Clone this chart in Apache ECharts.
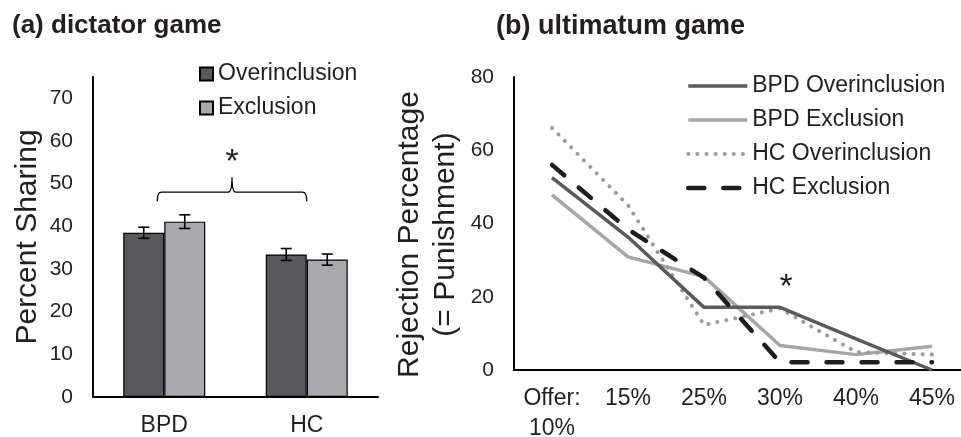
<!DOCTYPE html>
<html>
<head>
<meta charset="utf-8">
<script src="https://cdn.jsdelivr.net/npm/echarts@6/dist/echarts.min.js"></script>
<style>
  html, body { margin: 0; padding: 0; background: #fff; }
  #main { width: 961px; height: 437px; }
</style>
</head>
<body>
<div id="main"></div>
<script>
// (a) dictator game
var groups = ['BPD', 'HC'];
var overinclusion = [38.5, 33.4];
var exclusion = [41.1, 32.2];
var overinclusionErr = [1.3, 1.4];
var exclusionErr = [1.6, 1.3];
var sharingTicks = [0, 10, 20, 30, 40, 50, 60, 70];
var braceLevel = 48;   // height of the brace over both groups
var braceStar = '*';

// (b) ultimatum game
var offers = ['Offer:\n10%', '15%', '25%', '30%', '40%', '45%'];
var bpdOver = [52.5, 36.3, 17.1, 17.1, 8.5, 0];
var bpdExcl = [47.8, 30.9, 25.5, 6.7, 4.2, 6.5];
var hcOver = [66.1, 45, 12.3, 16.8, 4.9, 4.2];
var hcExcl = [56, 38.4, 25.2, 2.1, 2.1, 2.1];
var starOffer = 3;
var starLevel = 22.6;

var FONT = '"Liberation Sans", Arial, sans-serif';
var TXT = '#231f20';

var lineStyles = {
  'BPD Overinclusion': { color: '#5a5a5a', width: 3.5 },
  'BPD Exclusion': { color: '#a6a6a6', width: 3.5 },
  'HC Overinclusion': { color: '#9c9c9c', width: 4, type: [0.1, 9], cap: 'round' },
  'HC Exclusion': { color: '#1e1e1e', width: 4.5, type: [16, 19], cap: 'round' }
};

var chart = echarts.init(document.getElementById('main'));

function errorSeries(name, vals, errs, dx) {
  return {
    type: 'custom',
    name: name + ' err',
    xAxisIndex: 0, yAxisIndex: 0,
    z: 5,
    silent: true,
    data: vals.map(function (v, i) { return [i, v, errs[i]]; }),
    renderItem: function (params, api) {
      var hi = api.coord([api.value(0), api.value(1) + api.value(2)]);
      var lo = api.coord([api.value(0), api.value(1) - api.value(2)]);
      var x = hi[0] + dx;
      var w = 5.5;
      var st = { stroke: '#000', lineWidth: 1.6 };
      return {
        type: 'group',
        children: [
          { type: 'line', shape: { x1: x, y1: hi[1], x2: x, y2: lo[1] }, style: st },
          { type: 'line', shape: { x1: x - w, y1: hi[1], x2: x + w, y2: hi[1] }, style: st },
          { type: 'line', shape: { x1: x - w, y1: lo[1], x2: x + w, y2: lo[1] }, style: st }
        ]
      };
    }
  };
}

function lineSeries(name, data, z) {
  return {
    name: name, type: 'line', xAxisIndex: 1, yAxisIndex: 1,
    data: data, symbol: 'none', z: z,
    color: lineStyles[name].color,
    lineStyle: lineStyles[name]
  };
}

var option = {
  animation: false,
  textStyle: { fontFamily: FONT, color: TXT },
  title: [
    { text: '(a) dictator game', left: 12, top: 13, padding: 0,
      textStyle: { fontFamily: FONT, fontSize: 26, fontWeight: 'bold', color: TXT } },
    { text: '(b) ultimatum game', left: 496, top: 13, padding: 0,
      textStyle: { fontFamily: FONT, fontSize: 27, fontWeight: 'bold', color: TXT } }
  ],
  legend: [
    {
      data: ['Overinclusion', 'Exclusion'],
      orient: 'vertical',
      left: 199, top: 62, padding: 0,
      icon: 'rect',
      itemWidth: 13, itemHeight: 13, itemGap: 10,
      textStyle: { fontFamily: FONT, fontSize: 23, color: TXT, lineHeight: 24 }
    },
    {
      data: ['BPD Overinclusion', 'BPD Exclusion', 'HC Overinclusion', 'HC Exclusion'].map(function (n) {
        return { name: n, lineStyle: lineStyles[n], itemStyle: { opacity: 0 } };
      }),
      orient: 'vertical',
      left: 686, top: 74, padding: 0,
      itemWidth: 59, itemHeight: 24, itemGap: 10,
      itemStyle: { opacity: 0 },
      lineStyle: { width: 'inherit' },
      textStyle: { fontFamily: FONT, fontSize: 23, color: TXT, lineHeight: 24 }
    }
  ],
  grid: [
    { left: 93, top: 77, width: 285, height: 320, outerBoundsMode: 'none', containLabel: false },
    { left: 514, top: 77, width: 456, height: 293, outerBoundsMode: 'none', containLabel: false }
  ],
  xAxis: [
    {
      type: 'category', gridIndex: 0, data: groups,
      axisLine: { lineStyle: { color: '#000', width: 2 } },
      axisTick: { show: false },
      axisLabel: { fontFamily: FONT, fontSize: 23, color: TXT, margin: 14, lineHeight: 30 }
    },
    {
      type: 'category', gridIndex: 1, data: offers,
      axisLine: { lineStyle: { color: '#000', width: 2 } },
      axisTick: { show: false },
      axisLabel: { fontFamily: FONT, fontSize: 23, color: TXT, margin: 14, lineHeight: 30, interval: 0 }
    }
  ],
  yAxis: [
    {
      type: 'value', gridIndex: 0, min: 0, max: 75, interval: 10,
      name: 'Percent Sharing', nameLocation: 'middle', nameGap: 50, nameRotate: 90,
      nameTextStyle: { fontFamily: FONT, fontSize: 30, color: TXT },
      axisLine: { show: true, lineStyle: { color: '#000', width: 2 } },
      axisTick: { show: false },
      splitLine: { show: false },
      axisLabel: {
        fontFamily: FONT, fontSize: 21, color: TXT, margin: 20, showMaxLabel: false,
        formatter: function (v) { return sharingTicks.indexOf(v) >= 0 ? v : ''; }
      }
    },
    {
      type: 'value', gridIndex: 1, min: 0, max: 80, interval: 20,
      name: 'Rejection Percentage\n(= Punishment)', nameLocation: 'middle', nameGap: 50, nameRotate: 90,
      nameTextStyle: { fontFamily: FONT, fontSize: 30, color: TXT, lineHeight: 36, padding: [0, 22, 0, 0] },
      axisLine: { show: true, lineStyle: { color: '#000', width: 2 } },
      axisTick: { show: false },
      splitLine: { show: false },
      axisLabel: { fontFamily: FONT, fontSize: 21, color: TXT, margin: 20 }
    }
  ],
  series: [
    {
      name: 'Overinclusion', type: 'bar', xAxisIndex: 0, yAxisIndex: 0,
      data: overinclusion, barWidth: 41, barGap: 0,
      itemStyle: { color: '#58595b', borderColor: '#000', borderWidth: 1.2 }
    },
    {
      name: 'Exclusion', type: 'bar', xAxisIndex: 0, yAxisIndex: 0,
      data: exclusion, barWidth: 41, barGap: 0,
      itemStyle: { color: '#a7a9ac', borderColor: '#000', borderWidth: 1.2 }
    },
    errorSeries('Overinclusion', overinclusion, overinclusionErr, -20.5),
    errorSeries('Exclusion', exclusion, exclusionErr, 20.5),
    {
      // significance brace between the two groups
      type: 'custom', name: 'brace', xAxisIndex: 0, yAxisIndex: 0, silent: true,
      data: [[0, 1, braceLevel]],
      renderItem: function (params, api) {
        var a = api.coord([api.value(0), api.value(2)]);
        var b = api.coord([api.value(1), api.value(2)]);
        var x1 = a[0] - 7, x2 = b[0], y = a[1];
        var xm = (x1 + x2) / 2;
        var yEnd = y + 9, yTip = y - 15, r = 4;
        var path = 'M' + x1 + ',' + yEnd + ' Q' + x1 + ',' + y + ' ' + (x1 + r) + ',' + y +
          ' L' + (xm - r) + ',' + y + ' Q' + xm + ',' + y + ' ' + xm + ',' + yTip +
          ' Q' + xm + ',' + y + ' ' + (xm + r) + ',' + y +
          ' L' + (x2 - r) + ',' + y + ' Q' + x2 + ',' + y + ' ' + x2 + ',' + yEnd;
        return {
          type: 'group',
          children: [
            { type: 'path', shape: { pathData: path }, style: { fill: 'none', stroke: '#000', lineWidth: 1.3 } },
            { type: 'text', x: xm, y: yTip - 15,
              style: { text: braceStar, fontFamily: FONT, fontSize: 34, fill: TXT, align: 'center', verticalAlign: 'middle' } }
          ]
        };
      }
    },
    lineSeries('BPD Overinclusion', bpdOver, 3),
    lineSeries('BPD Exclusion', bpdExcl, 2),
    lineSeries('HC Overinclusion', hcOver, 2),
    lineSeries('HC Exclusion', hcExcl, 4),
    {
      type: 'custom', name: 'star', xAxisIndex: 1, yAxisIndex: 1, silent: true,
      data: [[starOffer, starLevel]],
      renderItem: function (params, api) {
        var p = api.coord([api.value(0), api.value(1)]);
        return { type: 'text', x: p[0] + 6, y: p[1],
          style: { text: '*', fontFamily: FONT, fontSize: 34, fill: TXT, align: 'center', verticalAlign: 'middle' } };
      }
    }
  ]
};

chart.setOption(option);
</script>
</body>
</html>
